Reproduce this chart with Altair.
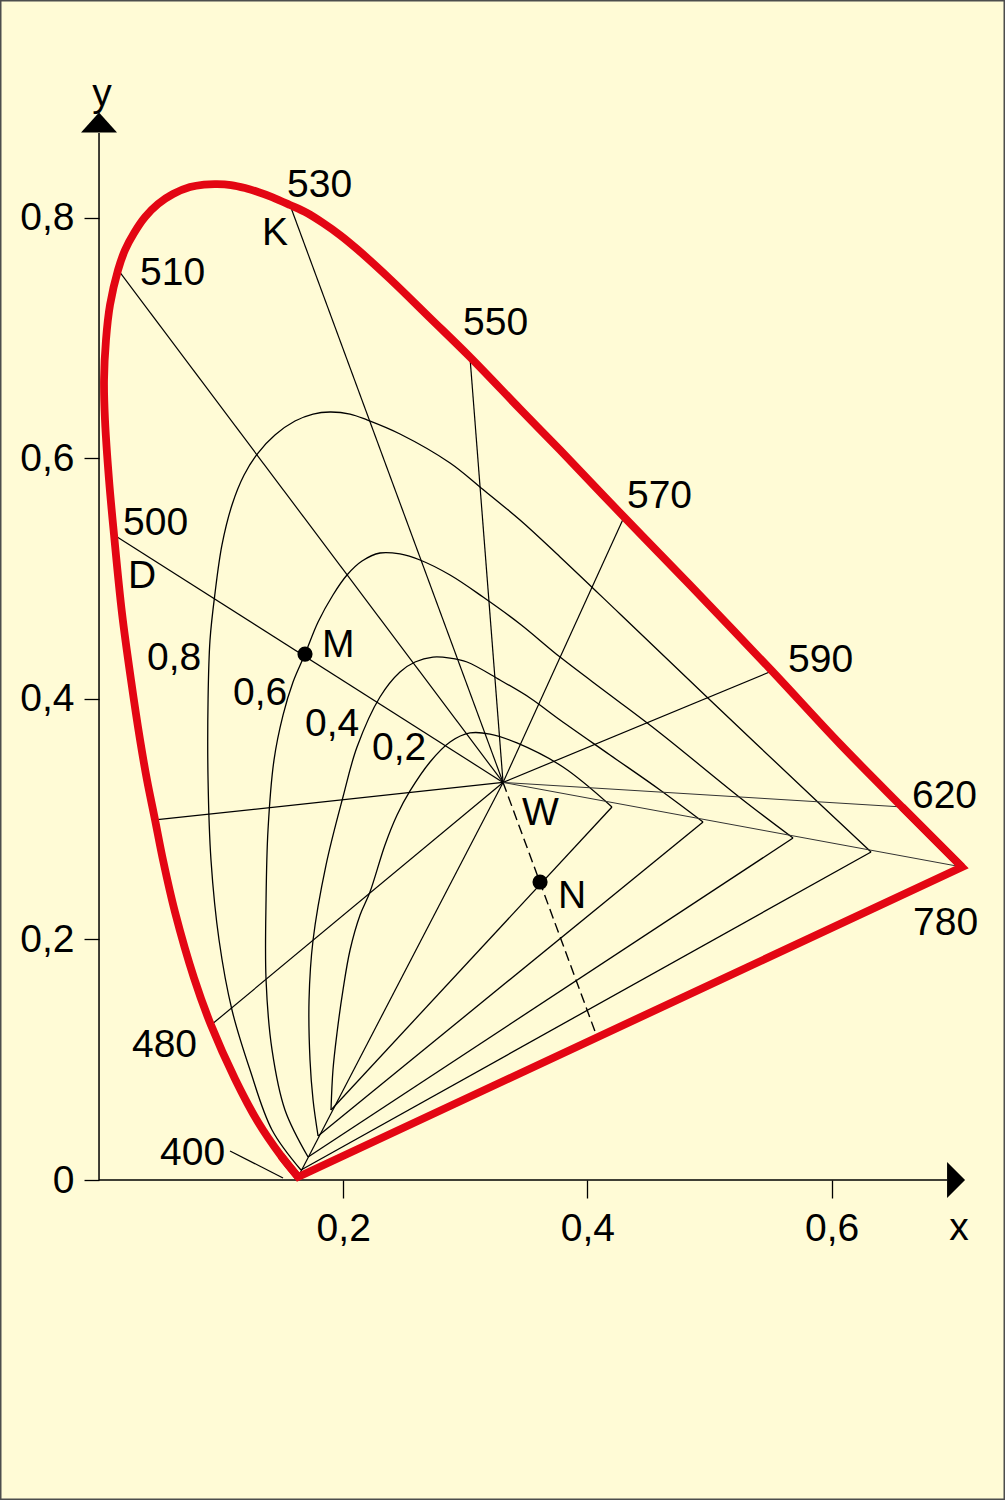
import altair as alt
import pandas as pd

FONT = "Liberation Sans"
BG = "#FFFBD6"
RED = "#E30613"
INK = "black"

# plot geometry (scale domains chosen so the whole page is the data area)
W_PX, H_PX = 1005, 1500
x_domain = [-0.0811, 0.7420]
y_domain = [-0.2660, 0.9809]

# axis extents and ticks
x_ticks = [0.2, 0.4, 0.6]
y_ticks = [0.0, 0.2, 0.4, 0.6, 0.8]
x_axis_end = 0.6945
y_axis_end = 0.8703
x_arrow_center = 0.7019
y_arrow_center = 0.8791

# spectral locus, from 400 nm round to 780 nm
locus_x = [0.1630, 0.1491, 0.1302, 0.1114, 0.0917, 0.0778, 0.0622, 0.0524, 0.0459, 0.0393,
           0.0336, 0.0262, 0.0188, 0.0123, 0.0082, 0.0049, 0.0041, 0.0057, 0.0090, 0.0156,
           0.0213, 0.0287, 0.0377, 0.0483, 0.0606, 0.0745, 0.0860, 0.0966, 0.1081, 0.1196,
           0.1302, 0.1417, 0.1564, 0.1704, 0.1835, 0.1974, 0.2113, 0.2383, 0.2711, 0.3038,
           0.3448, 0.3776, 0.4300, 0.4840, 0.5512, 0.6069, 0.6577, 0.7068]
locus_y = [0.0025, 0.0200, 0.0482, 0.0840, 0.1288, 0.1679, 0.2228, 0.2660, 0.2993, 0.3325,
           0.3658, 0.4156, 0.4713, 0.5362, 0.5819, 0.6318, 0.6650, 0.6983, 0.7274, 0.7565,
           0.7731, 0.7872, 0.8005, 0.8113, 0.8196, 0.8254, 0.8275, 0.8279, 0.8271, 0.8246,
           0.8213, 0.8171, 0.8105, 0.8038, 0.7955, 0.7855, 0.7739, 0.7490, 0.7166, 0.6841,
           0.6409, 0.6068, 0.5511, 0.4946, 0.4231, 0.3624, 0.3101, 0.2602]

# white point W
white_x, white_y = 0.3309, 0.3305

# dominant-wavelength lines from W
ray_nm = [400, 480, 490, 500, 510, 530, 550, 570, 590]
ray_x = [0.1630, 0.0917, 0.0459, 0.0123, 0.0156, 0.1564, 0.3038, 0.4300, 0.5512]
ray_y = [0.0025, 0.1288, 0.2993, 0.5362, 0.7565, 0.8105, 0.6841, 0.5511, 0.4231]
thin_ray_nm = [620, 780]
thin_ray_x = [0.6577, 0.7068]
thin_ray_y = [0.3101, 0.2602]

# purity contours 0,8 / 0,6 / 0,4 / 0,2 (bottom point -> left side -> top -> right apex)
c08_x = [0.1654, 0.1417, 0.1237, 0.1089, 0.0983, 0.0917, 0.0893, 0.0893, 0.0909, 0.0950,
         0.1007, 0.1089, 0.1188, 0.1302, 0.1441, 0.1605, 0.1753, 0.1892, 0.2056, 0.2195,
         0.2465, 0.2875, 0.3120, 0.3448, 0.3776, 0.4267, 0.5004, 0.5930, 0.6323]
c08_y = [0.0083, 0.0416, 0.0914, 0.1413, 0.1995, 0.2660, 0.3325, 0.3990, 0.4489, 0.4879,
         0.5279, 0.5611, 0.5860, 0.6043, 0.6193, 0.6309, 0.6367, 0.6384, 0.6367, 0.6318,
         0.6201, 0.5960, 0.5761, 0.5486, 0.5179, 0.4705, 0.3990, 0.3101, 0.2727]
c06_x = [0.1712, 0.1523, 0.1417, 0.1368, 0.1368, 0.1384, 0.1433, 0.1507, 0.1589, 0.1687,
         0.1794, 0.1916, 0.2031, 0.2154, 0.2301, 0.2465, 0.2629, 0.2875, 0.3145, 0.3448,
         0.3776, 0.4185, 0.4595, 0.5274, 0.5684]
c06_y = [0.0191, 0.0582, 0.1081, 0.1663, 0.2328, 0.2909, 0.3491, 0.3865, 0.4140, 0.4372,
         0.4638, 0.4863, 0.5029, 0.5145, 0.5212, 0.5204, 0.5154, 0.5029, 0.4846, 0.4622,
         0.4347, 0.4032, 0.3716, 0.3159, 0.2843]
c04_x = [0.1794, 0.1753, 0.1728, 0.1720, 0.1753, 0.1859, 0.1998, 0.2113, 0.2301, 0.2465,
         0.2588, 0.2735, 0.2875, 0.3014, 0.3284, 0.3530, 0.3776, 0.4185, 0.4595, 0.4947]
c04_y = [0.0366, 0.0665, 0.0998, 0.1496, 0.1995, 0.2618, 0.3184, 0.3599, 0.4015, 0.4223,
         0.4306, 0.4347, 0.4339, 0.4306, 0.4156, 0.4007, 0.3824, 0.3533, 0.3242, 0.2976]
c02_x = [0.1900, 0.1916, 0.1949, 0.1998, 0.2056, 0.2138, 0.2219, 0.2342, 0.2441, 0.2547,
         0.2711, 0.2875, 0.3038, 0.3202, 0.3423, 0.3800, 0.4201]
c02_y = [0.0582, 0.0914, 0.1222, 0.1579, 0.1912, 0.2203, 0.2394, 0.2785, 0.3034, 0.3234,
         0.3475, 0.3641, 0.3716, 0.3707, 0.3633, 0.3433, 0.3101]

# dashed complementary line W -> purple line, points M and N
dash_end_x, dash_end_y = 0.4079, 0.1189
point_names = ["M", "N"]
point_x = [0.1687, 0.3612]
point_y = [0.4372, 0.2477]

# leader line for the 400 label
leader_x = [0.1073, 0.1507]
leader_y = [0.0241, 0.0017]

# text labels (left edge, baseline)
label_text = ["530", "K", "510", "550", "570", "590", "620", "780", "500", "D",
              "0,8", "M", "0,6", "0,4", "0,2", "W", "N", "480", "400"]
label_x = [0.1540, 0.1335, 0.0336, 0.2981, 0.4324, 0.5643, 0.6658, 0.6667, 0.0197, 0.0238,
           0.0393, 0.1826, 0.1097, 0.1687, 0.2236, 0.3464, 0.3759, 0.0270, 0.0500]
label_y = [0.8171, 0.7772, 0.7440, 0.7024, 0.5586, 0.4223, 0.3092, 0.2037, 0.5362, 0.4921,
           0.4239, 0.4347, 0.3948, 0.3691, 0.3491, 0.2951, 0.2261, 0.1022, 0.0125]
axis_title_text = ["x", "y"]
axis_title_x = [0.7043, 0.0025]
axis_title_y = [-0.0499, 0.8928]

# ---------------------------------------------------------------- build
xs = alt.Scale(domain=x_domain, nice=False, zero=False)
ys = alt.Scale(domain=y_domain, nice=False, zero=False)
x_off = -H_PX * (0 - y_domain[0]) / (y_domain[1] - y_domain[0])
y_off = -W_PX * (0 - x_domain[0]) / (x_domain[1] - x_domain[0])

common_axis = dict(domain=False, grid=False, title=None, tickColor=INK, tickWidth=1.3,
                   labelFont=FONT, labelFontSize=39, labelColor=INK,
                   labelOverlap=False, labelFlush=False)
x_axis = alt.Axis(orient="bottom", offset=x_off, values=x_ticks, tickSize=18, labelPadding=11,
                  labelExpr="replace(format(datum.value, '.1f'), '.', ',')", **common_axis)
y_axis = alt.Axis(orient="left", offset=y_off, values=y_ticks, tickSize=15, labelPadding=10,
                  labelExpr="datum.value == 0 ? '0' : replace(format(datum.value, '.1f'), '.', ',')",
                  **common_axis)


def X(f):
    return alt.X(f, type="quantitative", scale=xs, axis=x_axis)


def Y(f):
    return alt.Y(f, type="quantitative", scale=ys, axis=y_axis)


axes_df = pd.DataFrame({"x": [0, 0], "y": [0, 0], "x2": [x_axis_end, 0], "y2": [0, y_axis_end]})
axes_layer = alt.Chart(axes_df).mark_rule(color=INK, strokeWidth=1.5).encode(
    X("x"), Y("y"), x2="x2", y2="y2")

yarrow = alt.Chart(pd.DataFrame({"x": [0.0], "y": [y_arrow_center]})).mark_point(
    shape="M -1 0.556 L 0 -0.556 L 1 0.556 Z", size=1296, filled=True, color=INK,
    opacity=1, strokeWidth=0).encode(X("x"), Y("y"))
xarrow = alt.Chart(pd.DataFrame({"x": [x_arrow_center], "y": [0.0]})).mark_point(
    shape="M -0.5 -1 L 0.5 0 L -0.5 1 Z", size=1296, filled=True, color=INK,
    opacity=1, strokeWidth=0).encode(X("x"), Y("y"))

contours = [("0.8", c08_x, c08_y), ("0.6", c06_x, c06_y), ("0.4", c04_x, c04_y), ("0.2", c02_x, c02_y)]
rows = []
close_rows = []
for name, cx, cy in contours:
    assert len(cx) == len(cy)
    for i, (a, b) in enumerate(zip(cx, cy)):
        rows.append({"c": name, "i": i, "x": a, "y": b})
    close_rows.append({"x": cx[-1], "y": cy[-1], "x2": cx[0], "y2": cy[0]})
contour_df = pd.DataFrame(rows)
contour_layer = alt.Chart(contour_df).mark_line(
    interpolate="catmull-rom", color=INK, strokeWidth=1.3).encode(
    X("x"), Y("y"), detail="c:N", order="i:Q")
close_layer = alt.Chart(pd.DataFrame(close_rows)).mark_rule(color=INK, strokeWidth=1.3).encode(
    X("x"), Y("y"), x2="x2", y2="y2")

ray_df = pd.DataFrame({"nm": ray_nm, "x": [white_x] * len(ray_x), "y": [white_y] * len(ray_y),
                       "x2": ray_x, "y2": ray_y})
ray_layer = alt.Chart(ray_df).mark_rule(color=INK, strokeWidth=1.2).encode(
    X("x"), Y("y"), x2="x2", y2="y2")
thin_df = pd.DataFrame({"nm": thin_ray_nm, "x": [white_x] * 2, "y": [white_y] * 2,
                        "x2": thin_ray_x, "y2": thin_ray_y})
thin_layer = alt.Chart(thin_df).mark_rule(color="#333333", strokeWidth=1.0).encode(
    X("x"), Y("y"), x2="x2", y2="y2")

dash_df = pd.DataFrame({"x": [white_x], "y": [white_y], "x2": [dash_end_x], "y2": [dash_end_y]})
dash_layer = alt.Chart(dash_df).mark_rule(color=INK, strokeWidth=1.4, strokeDash=[10, 5]).encode(
    X("x"), Y("y"), x2="x2", y2="y2")

leader_df = pd.DataFrame({"x": [leader_x[0]], "y": [leader_y[0]], "x2": [leader_x[1]], "y2": [leader_y[1]]})
leader_layer = alt.Chart(leader_df).mark_rule(color=INK, strokeWidth=1.2).encode(
    X("x"), Y("y"), x2="x2", y2="y2")

assert len(locus_x) == len(locus_y)
locus_df = pd.DataFrame({"i": list(range(len(locus_x))), "x": locus_x, "y": locus_y})
locus_layer = alt.Chart(locus_df).mark_line(
    interpolate="catmull-rom", color=RED, strokeWidth=7.8, strokeCap="butt").encode(
    X("x"), Y("y"), order="i:Q")
# purple line closing the locus, with pointed corners at 780 nm and 400 nm
corner_idx = [len(locus_x) - 2, len(locus_x) - 1, 0, 1]
corner_df = pd.DataFrame({"i": list(range(4)),
                          "x": [locus_x[k] for k in corner_idx],
                          "y": [locus_y[k] for k in corner_idx]})
corner_layer = alt.Chart(corner_df).mark_line(
    interpolate="linear", color=RED, strokeWidth=7.8, strokeJoin="miter",
    strokeMiterLimit=10, strokeCap="butt").encode(X("x"), Y("y"), order="i:Q")

dots = alt.Chart(pd.DataFrame({"n": point_names, "x": point_x, "y": point_y})).mark_circle(
    size=230, color=INK, opacity=1).encode(X("x"), Y("y"))

labels = alt.Chart(pd.DataFrame({"t": label_text, "x": label_x, "y": label_y})).mark_text(
    align="left", baseline="alphabetic", font=FONT, fontSize=39, color=INK).encode(
    X("x"), Y("y"), text="t:N")
titles = alt.Chart(pd.DataFrame({"t": axis_title_text, "x": axis_title_x, "y": axis_title_y})).mark_text(
    align="center", baseline="alphabetic", font=FONT, fontSize=39, color=INK).encode(
    X("x"), Y("y"), text="t:N")

chart = alt.layer(
    axes_layer, yarrow, xarrow,
    contour_layer, close_layer, ray_layer, thin_layer, dash_layer, leader_layer,
    locus_layer, corner_layer, dots, labels, titles,
).properties(
    width=W_PX, height=H_PX, background=BG, padding=0,
    autosize=alt.AutoSizeParams(type="none"),
).configure_view(stroke="#4d4d4d", strokeWidth=3)

chart.save("out.html", embed_options={"renderer": "svg", "actions": False})
